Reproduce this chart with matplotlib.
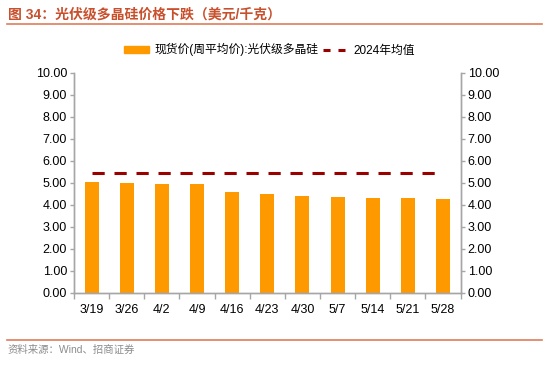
import numpy as np
import matplotlib
matplotlib.use('Agg')
from matplotlib import pyplot as plt
from matplotlib.lines import Line2D
from matplotlib.patches import Patch

plt.rcParams['font.family'] = ['Liberation Sans', 'Noto Sans CJK SC', 'DejaVu Sans']

dates = ['3/19', '3/26', '4/2', '4/9', '4/16', '4/23', '4/30', '5/7', '5/14', '5/21', '5/28']
spot_price = [5.05, 5.00, 4.97, 4.94, 4.60, 4.51, 4.40, 4.34, 4.31, 4.30, 4.28]
avg_2024 = [5.45] * len(dates)

bar_color = '#FF9900'
line_color = '#990000'
axis_color = '#A6A6A6'
title_color = '#C8502D'

fig = plt.figure(figsize=(5.5, 3.9), dpi=100)
ax = fig.add_axes([0.1345, 0.249, 0.703, 0.564])

x = np.arange(len(dates))
ax.bar(x, spot_price, width=0.4, color=bar_color, zorder=2)
ax.plot(x, avg_2024, color=line_color, lw=2.2, dashes=(4, 3.2), zorder=3)

ax.set_xlim(-0.5, len(dates) - 0.5)
ax.set_ylim(0, 10)
yt = np.arange(0, 11, 1)
ax.set_yticks(yt)
ax.set_yticklabels(['%.2f' % v for v in yt])
ax.set_xticks(x)
ax.set_xticklabels(dates)
ax.set_xticks(np.arange(-0.5, len(dates)), minor=True)
ax.tick_params(axis='x', which='major', length=0, labelsize=9, pad=8)
ax.tick_params(axis='x', which='minor', length=4, color=axis_color, width=1)
ax.tick_params(axis='y', length=3, color=axis_color, width=1, labelsize=9, pad=2)

ax2 = ax.twinx()
ax2.set_ylim(0, 10)
ax2.set_yticks(yt)
ax2.set_yticklabels(['%.2f' % v for v in yt])
ax2.tick_params(axis='y', length=3, color=axis_color, width=1, labelsize=9, pad=2)

for a in (ax, ax2):
    a.spines['top'].set_visible(False)
    for s in ['left', 'right', 'bottom']:
        a.spines[s].set_color(axis_color)
        a.spines[s].set_linewidth(1)

handles = [Patch(color=bar_color), Line2D([0], [0], color=line_color, lw=2.2, dashes=(2.3, 2.6))]
labels = ['现货价(周平均价):光伏级多晶硅', '2024年均值']
fig.legend(handles, labels, loc='center', bbox_to_anchor=(0.49, 0.872), ncol=2, frameon=False,
           fontsize=8.5, handlelength=2.1, handleheight=0.6, columnspacing=0.3, handletextpad=0.5)

fig.text(0.014, 0.962, '图 34：光伏级多晶硅价格下跌（美元/千克）', color=title_color,
         fontsize=10, fontweight='bold', va='center', ha='left')
fig.add_artist(Line2D([0.012, 0.985], [0.938, 0.938], color='#E07B5A', lw=1.2))
fig.add_artist(Line2D([0.012, 0.985], [0.128, 0.128], color='#E07B5A', lw=1.2))
fig.text(0.014, 0.103, '资料来源：Wind、招商证券', color='#8C8C8C', fontsize=7.5, va='center', ha='left')

fig.savefig('out.png', dpi=100)
